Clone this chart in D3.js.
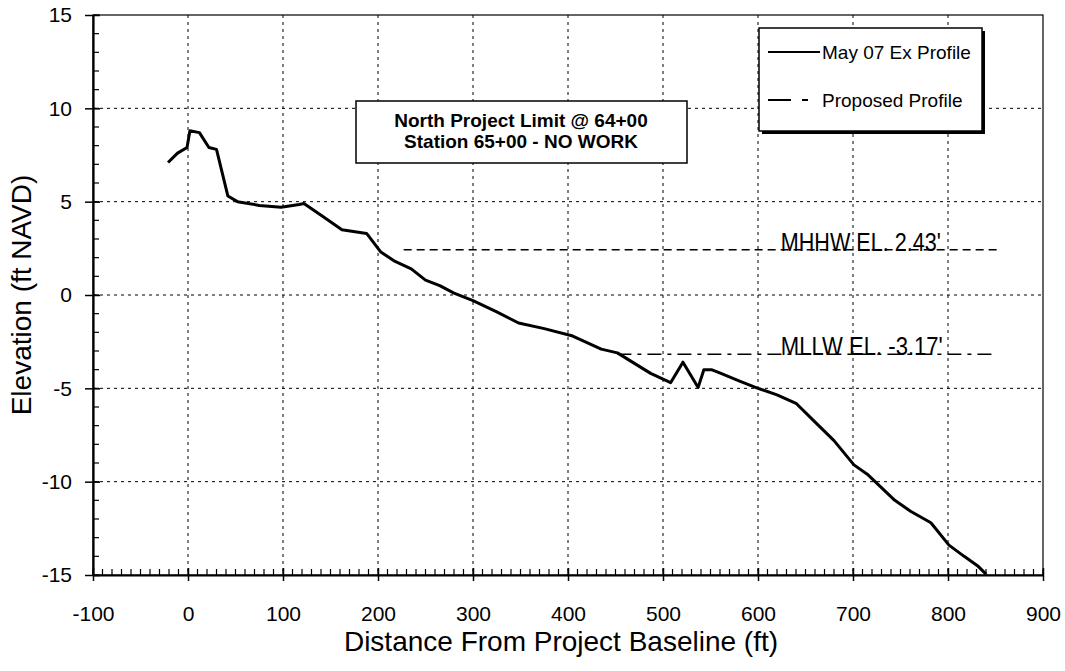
<!DOCTYPE html>
<html>
<head>
<meta charset="utf-8">
<script src="https://cdn.jsdelivr.net/npm/d3@7"></script>
<style>
  body { margin: 0; background: #fff; }
  svg { font-family: "Liberation Sans", Arial, sans-serif; }
  .grid line { stroke: #000; stroke-width: 1; stroke-dasharray: 3,4; }
</style>
</head>
<body>
<div id="chart"></div>
<script>
// Existing profile (May 07), distance ft vs elevation ft NAVD
var profileDist = [-21, -11, -1, 2, 12, 22, 30, 42, 52, 75, 98, 117, 122, 142, 162, 188, 203, 218, 235, 250, 265, 280, 300, 325, 348, 375, 405, 435, 452, 487, 508, 521, 537, 543, 551, 561, 580, 600, 620, 640, 658, 680, 701, 715, 744, 761, 782, 801, 817, 831, 840];
var profileElev = [7.1, 7.6, 7.9, 8.8, 8.7, 7.9, 7.8, 5.3, 5.0, 4.8, 4.7, 4.85, 4.9, 4.2, 3.5, 3.3, 2.3, 1.8, 1.4, 0.8, 0.5, 0.1, -0.3, -0.9, -1.5, -1.8, -2.2, -2.9, -3.1, -4.2, -4.7, -3.6, -4.95, -4.0, -4.0, -4.2, -4.6, -5.0, -5.35, -5.8, -6.7, -7.8, -9.1, -9.6, -11.0, -11.6, -12.2, -13.4, -14.0, -14.5, -14.95];

// Tidal datum lines (proposed profile style)
var mhhwElev = 2.43;
var mhhwRange = [227, 853];
var mllwElev = -3.17;
var mllwRange = [452, 848];
var datumLabels = ["MHHW EL. 2.43'", "MLLW EL. -3.17'"];

var xTicks = [-100, 0, 100, 200, 300, 400, 500, 600, 700, 800, 900];
var yTicks = [15, 10, 5, 0, -5, -10, -15];
var legendLabels = ["May 07 Ex Profile", "Proposed Profile"];
var noteLines = ["North Project Limit @ 64+00", "Station 65+00 - NO WORK"];

var profile = profileDist.map(function (d, i) { return { x: d, y: profileElev[i] }; });

var margin = { top: 15, right: 22, bottom: 96, left: 93 };
var width = 1065 - margin.left - margin.right;
var height = 671 - margin.top - margin.bottom;

var svg = d3.select("#chart")
  .append("svg")
  .attr("width", 1065)
  .attr("height", 671)
  .append("g")
  .attr("transform", "translate(" + margin.left + "," + margin.top + ")");

var xScale = d3.scaleLinear().domain([-100, 900]).range([0, width]);
var yScale = d3.scaleLinear().domain([-15, 15]).range([height, 0]);

// Grid lines
svg.append("g").attr("class", "grid")
  .selectAll("line")
  .data(xTicks.filter(function (d) { return d > -100 && d < 900; }))
  .join("line")
  .attr("x1", function (d) { return xScale(d); })
  .attr("x2", function (d) { return xScale(d); })
  .attr("y1", 0).attr("y2", height);

svg.append("g").attr("class", "grid")
  .selectAll("line")
  .data(yTicks.filter(function (d) { return d > -15 && d < 15; }))
  .join("line")
  .attr("y1", function (d) { return yScale(d); })
  .attr("y2", function (d) { return yScale(d); })
  .attr("x1", 0).attr("x2", width);

// Frame
svg.append("rect")
  .attr("width", width).attr("height", height)
  .attr("fill", "none").attr("stroke", "#000").attr("stroke-width", 1.2);

// Minor ticks
svg.append("g")
  .selectAll("line")
  .data(d3.range(-15, 16, 1))
  .join("line")
  .attr("x1", 0).attr("x2", 6)
  .attr("y1", function (d) { return yScale(d); })
  .attr("y2", function (d) { return yScale(d); })
  .attr("stroke", "#000").attr("stroke-width", 1.2);

svg.append("g")
  .selectAll("line")
  .data(d3.range(-100, 901, 10))
  .join("line")
  .attr("y1", height).attr("y2", height - 6)
  .attr("x1", function (d) { return xScale(d); })
  .attr("x2", function (d) { return xScale(d); })
  .attr("stroke", "#000").attr("stroke-width", 1.2);

// Axes
var fmt = function (d) { return String(d); };
var xAxis = d3.axisBottom(xScale).tickValues(xTicks).tickFormat(fmt).tickSize(6).tickSizeOuter(0).tickPadding(25);
var yAxis = d3.axisLeft(yScale).tickValues(yTicks).tickFormat(fmt).tickSize(8).tickSizeOuter(0).tickPadding(13);

var gx = svg.append("g")
  .attr("transform", "translate(0," + height + ")")
  .call(xAxis);
gx.select(".domain").attr("stroke-width", 2.2);
gx.selectAll(".tick line").attr("stroke-width", 1.5).attr("y1", -7);
gx.selectAll("text").attr("font-size", 21).attr("fill", "#000");

var gy = svg.append("g").call(yAxis);
gy.select(".domain").attr("stroke-width", 2.2);
gy.selectAll(".tick line").attr("stroke-width", 1.5).attr("x1", 7);
gy.selectAll("text").attr("font-size", 21).attr("fill", "#000");

// Axis titles
svg.append("text")
  .attr("x", 561 - margin.left)
  .attr("y", 651 - margin.top)
  .attr("text-anchor", "middle")
  .attr("font-size", 28)
  .text("Distance From Project Baseline (ft)");

svg.append("text")
  .attr("transform", "rotate(-90)")
  .attr("x", -yScale(0))
  .attr("y", -margin.left + 31)
  .attr("text-anchor", "middle")
  .attr("font-size", 28)
  .text("Elevation (ft NAVD)");

// Tidal lines
svg.append("line")
  .attr("x1", xScale(mhhwRange[0])).attr("x2", xScale(mhhwRange[1]))
  .attr("y1", yScale(mhhwElev)).attr("y2", yScale(mhhwElev))
  .attr("stroke", "#000").attr("stroke-width", 1.5)
  .attr("stroke-dasharray", "8,5");

svg.append("line")
  .attr("x1", xScale(mllwRange[0])).attr("x2", xScale(mllwRange[1]))
  .attr("y1", yScale(mllwElev)).attr("y2", yScale(mllwElev))
  .attr("stroke", "#000").attr("stroke-width", 1.5)
  .attr("stroke-dasharray", "14,6,4,6");

svg.selectAll(".datum")
  .data([mhhwElev, mllwElev])
  .join("text")
  .attr("class", "datum")
  .attr("x", xScale(624))
  .attr("y", function (d) { return yScale(d) + 1; })
  .attr("font-family", "'Liberation Sans Narrow', 'Arial Narrow', sans-serif")
  .attr("font-size", 25)
  .attr("textLength", function (d, i) { return i === 0 ? 160 : 162; })
  .attr("lengthAdjust", "spacingAndGlyphs")
  .text(function (d, i) { return datumLabels[i]; });

// Profile line
var line = d3.line()
  .x(function (d) { return xScale(d.x); })
  .y(function (d) { return yScale(d.y); });

svg.append("path")
  .datum(profile)
  .attr("fill", "none")
  .attr("stroke", "#000")
  .attr("stroke-width", 3)
  .attr("stroke-linejoin", "round")
  .attr("d", line);

// Note box
var note = svg.append("g").attr("transform", "translate(" + (356 - margin.left) + "," + (101 - margin.top) + ")");
note.append("rect")
  .attr("width", 331).attr("height", 62)
  .attr("fill", "#fff").attr("stroke", "#000").attr("stroke-width", 1.5);
note.selectAll("text")
  .data(noteLines)
  .join("text")
  .attr("x", 165)
  .attr("y", function (d, i) { return 26 + i * 21; })
  .attr("text-anchor", "middle")
  .attr("font-weight", "bold")
  .attr("font-size", 19)
  .text(function (d) { return d; });

// Legend
var legend = svg.append("g").attr("transform", "translate(" + (759 - margin.left) + "," + (28 - margin.top) + ")");
legend.append("rect")
  .attr("x", 3).attr("y", 3)
  .attr("width", 223).attr("height", 103)
  .attr("fill", "#000");
legend.append("rect")
  .attr("width", 223).attr("height", 103)
  .attr("fill", "#fff").attr("stroke", "#000").attr("stroke-width", 1.5);

var legendItem = legend.selectAll(".legend")
  .data(legendLabels)
  .join("g")
  .attr("class", "legend")
  .attr("transform", function (d, i) { return "translate(0," + (24 + i * 48) + ")"; });

legendItem.append("line")
  .attr("x1", 9).attr("x2", 61)
  .attr("stroke", "#000").attr("stroke-width", 2)
  .attr("stroke-dasharray", function (d, i) { return i === 0 ? null : "23,11,6,20"; });

legendItem.append("text")
  .attr("x", 63)
  .attr("y", 7)
  .attr("font-size", 19)
  .text(function (d) { return d; });
</script>
</body>
</html>
